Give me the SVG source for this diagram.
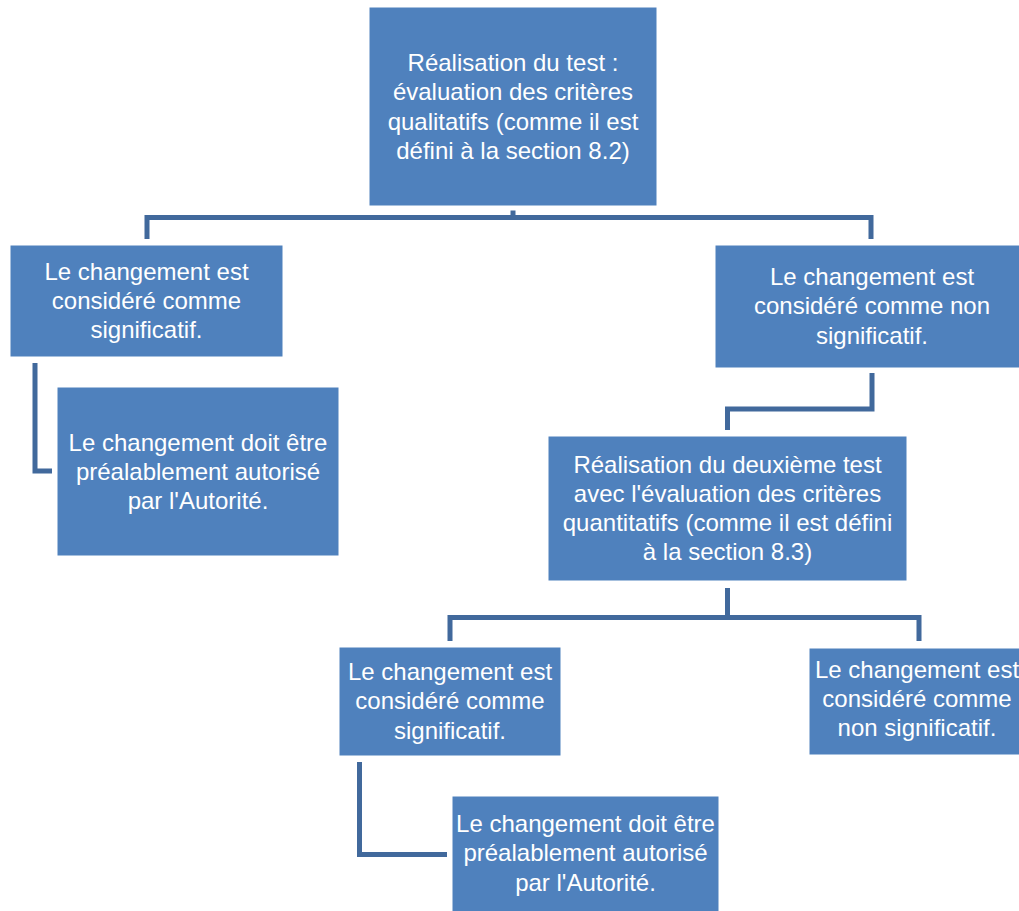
<svg xmlns="http://www.w3.org/2000/svg" width="1019" height="911" viewBox="0 0 1019 911">
<style>
.box{fill:#4f81bd;stroke:#ffffff;stroke-width:1}
.t{font-family:"Liberation Sans",Arial,sans-serif;font-size:24px;fill:#ffffff;text-anchor:middle}
.c{fill:none;stroke:#41699c;stroke-width:5;stroke-linejoin:miter;stroke-linecap:butt}
</style>
<rect width="1019" height="911" fill="#ffffff"/>
<g id="connectors">
<path class="c" d="M513,210.5 V217.5"/>
<path class="c" d="M147,239 V217.5 H871 V239"/>
<path class="c" d="M35,363 V471 H52"/>
<path class="c" d="M872,373 V409 H727.5 V430"/>
<path class="c" d="M727.5,588 V617.5"/>
<path class="c" d="M450,641 V617.5 H919 V641"/>
<path class="c" d="M359.5,762 V854.5 H447"/>
</g>
<g id="n1">
<rect class="box" x="369" y="7" width="288" height="199"/>
<text class="t"><tspan x="513" y="71">Réalisation du test :</tspan><tspan x="513" y="100.3">évaluation des critères</tspan><tspan x="513" y="129.6">qualitatifs (comme il est</tspan><tspan x="513" y="158.9">défini à la section 8.2)</tspan></text>
</g>
<g id="n2">
<rect class="box" x="10" y="245" width="273" height="112"/>
<text class="t"><tspan x="146.5" y="279.5">Le changement est</tspan><tspan x="146.5" y="308.8">considéré comme</tspan><tspan x="146.5" y="338.1">significatif.</tspan></text>
</g>
<g id="n3">
<rect class="box" x="57" y="387" width="282" height="169"/>
<text class="t"><tspan x="198" y="450.5">Le changement doit être</tspan><tspan x="198" y="479.8">préalablement autorisé</tspan><tspan x="198" y="509.1">par l'Autorité.</tspan></text>
</g>
<g id="n4">
<rect class="box" x="715" y="245" width="314" height="123"/>
<text class="t"><tspan x="872" y="285">Le changement est</tspan><tspan x="872" y="314.3">considéré comme non</tspan><tspan x="872" y="343.6">significatif.</tspan></text>
</g>
<g id="n5">
<rect class="box" x="548" y="436" width="359" height="145"/>
<text class="t"><tspan x="727.5" y="472.5">Réalisation du deuxième test</tspan><tspan x="727.5" y="501.8">avec l'évaluation des critères</tspan><tspan x="727.5" y="531.1">quantitatifs (comme il est défini</tspan><tspan x="727.5" y="560.4">à la section 8.3)</tspan></text>
</g>
<g id="n6">
<rect class="box" x="339" y="647" width="222" height="109"/>
<text class="t"><tspan x="450" y="680">Le changement est</tspan><tspan x="450" y="709.3">considéré comme</tspan><tspan x="450" y="738.6">significatif.</tspan></text>
</g>
<g id="n7">
<rect class="box" x="452" y="796" width="267" height="131"/>
<text class="t"><tspan x="585.5" y="832">Le changement doit être</tspan><tspan x="585.5" y="861.3">préalablement autorisé</tspan><tspan x="585.5" y="890.6">par l'Autorité.</tspan></text>
</g>
<g id="n8">
<rect class="box" x="809" y="648" width="216" height="107"/>
<text class="t"><tspan x="917" y="677.5">Le changement est</tspan><tspan x="917" y="706.8">considéré comme</tspan><tspan x="917" y="736.1">non significatif.</tspan></text>
</g>
</svg>
